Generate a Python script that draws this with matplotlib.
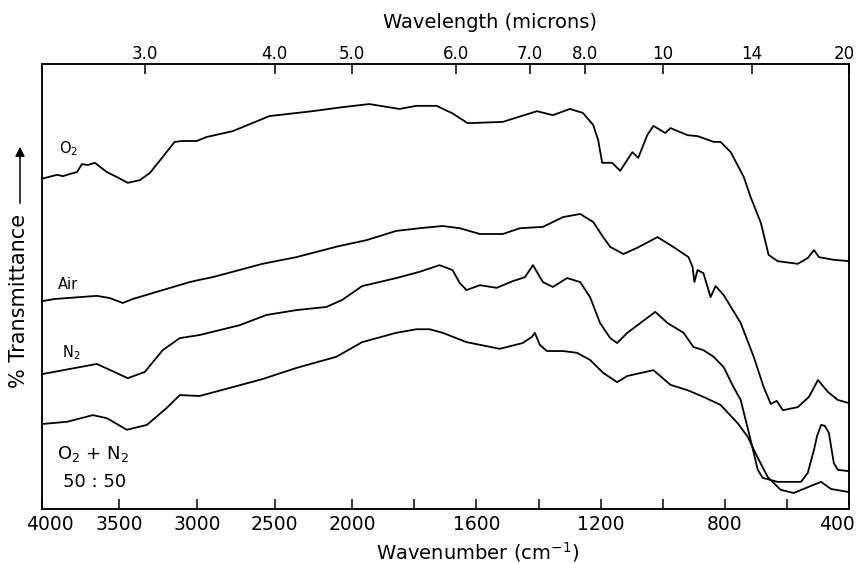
import matplotlib.pyplot as plt
import matplotlib.transforms as mtransforms
import numpy as np

# spectra: wavenumber (cm-1) and % transmittance (offset traces)
wn_o2 = [4000, 3902, 3863, 3818, 3773, 3741, 3703, 3658, 3580, 3516, 3446, 3368, 3304, 3221,
         3144, 3093, 3002, 2938, 2771, 2533, 2257, 2064, 1945, 1848, 1793, 1728, 1677, 1628,
         1515, 1405, 1354, 1299, 1257, 1224, 1208, 1195, 1163, 1137, 1098, 1079, 1050, 1030,
         992, 975, 920, 888, 836, 814, 781, 739, 717, 684, 659, 630, 565, 533, 513, 497, 449, 400]
t_o2 = [74.2, 75.1, 74.8, 75.3, 75.7, 77.5, 77.3, 77.8, 75.7, 74.6, 73.3, 73.9, 75.5, 79.1,
        82.5, 82.7, 82.7, 83.6, 84.9, 88.3, 89.4, 90.3, 91.0, 89.9, 90.6, 90.6, 88.9, 86.7,
        87.0, 89.4, 88.5, 89.9, 89.0, 86.3, 82.9, 77.8, 77.8, 76.0, 80.2, 78.9, 84.0, 86.1,
        84.5, 85.6, 84.0, 83.8, 82.5, 82.5, 80.2, 74.6, 70.1, 64.3, 57.1, 55.7, 55.1, 56.4, 58.2,
        56.6, 56.0, 55.7]

wn_air = [4000, 3915, 3645, 3561, 3478, 3413, 3047, 2983, 2899, 2578, 2360, 2084, 1955, 1858,
          1783, 1709, 1654, 1589, 1515, 1460, 1386, 1321, 1266, 1224, 1192, 1169, 1127, 1082,
          1017, 966, 917, 904, 898, 888, 869, 846, 830, 804, 749, 707, 675, 652, 633, 613, 565,
          529, 500, 468, 436, 400]
t_air = [46.7, 47.2, 47.9, 47.4, 46.3, 47.2, 51.0, 51.5, 52.1, 55.1, 56.6, 59.1, 60.4, 62.5,
         63.1, 63.6, 63.1, 61.8, 61.8, 63.1, 63.4, 65.6, 66.3, 64.5, 61.1, 58.9, 57.3, 58.7,
         61.1, 58.9, 56.6, 54.4, 51.0, 53.7, 53.0, 47.6, 50.1, 48.1, 41.8, 34.2, 27.4, 23.6, 24.3,
         22.2, 22.9, 25.2, 29.0, 26.3, 24.5, 23.8]

wn_n2 = [4000, 3645, 3446, 3336, 3221, 3111, 2983, 2726, 2553, 2360, 2167, 2064, 1968, 1858,
         1783, 1719, 1677, 1654, 1632, 1589, 1535, 1483, 1444, 1418, 1386, 1354, 1308, 1266,
         1234, 1202, 1169, 1147, 1114, 1072, 1024, 985, 933, 901, 869, 836, 804, 772, 749, 733,
         717, 694, 678, 630, 555, 533, 513, 503, 490, 478, 465, 449, 436, 400]
t_n2 = [30.3, 32.6, 29.4, 30.8, 35.7, 38.4, 39.1, 41.3, 43.6, 44.7, 45.4, 47.0, 50.1, 51.9,
        53.3, 54.8, 53.7, 50.8, 49.2, 50.3, 49.7, 51.2, 52.1, 54.8, 51.0, 49.9, 51.9, 51.0,
        47.6, 41.8, 38.4, 37.3, 39.6, 41.8, 44.3, 41.8, 39.6, 36.4, 35.7, 34.2, 31.9, 27.4, 24.5,
        20.0, 15.5, 8.8, 7.0, 6.1, 6.1, 8.1, 13.3, 16.4, 18.9, 18.7, 17.1, 10.3, 8.8, 8.5]

wn_mix = [4000, 3837, 3670, 3580, 3452, 3323, 3195, 3111, 2983, 2790, 2578, 2360, 2103, 1968,
          1858, 1793, 1751, 1709, 1632, 1525, 1451, 1421, 1412, 1396, 1373, 1321, 1276, 1234,
          1192, 1147, 1114, 1030, 975, 920, 869, 814, 759, 726, 694, 662, 620, 578, 533, 490,
          458, 400]
t_mix = [19.1, 19.6, 21.1, 20.4, 17.8, 18.9, 22.7, 25.6, 25.4, 27.2, 29.2, 31.7, 34.2, 37.5,
         39.6, 40.4, 40.4, 39.6, 37.5, 36.0, 37.3, 38.7, 39.6, 36.9, 35.5, 35.5, 35.1, 33.5,
         30.6, 28.5, 29.9, 31.2, 27.9, 26.7, 25.2, 23.4, 19.3, 16.2, 11.5, 7.2, 4.3, 3.6, 4.9, 6.1,
         4.5, 3.8]

bottom_ticks = [4000, 3500, 3000, 2500, 2000, 1800, 1600, 1400, 1200, 1000, 800, 600, 400]
bottom_labels = ["4000", "3500", "3000", "2500", "2000", "", "1600", "", "1200", "", "800", "", "400"]
top_ticks = [3333, 2500, 2000, 1667, 1429, 1250, 1000, 714, 400]
top_labels = ["3.0", "4.0", "5.0", "6.0", "7.0", "8.0", "10", "14", "20"]


# chart paper doubles the scale below 2000 cm-1
def fwd(x):
    x = np.asarray(x, dtype=float)
    return np.where(x > 2000, 2000 + (x - 2000) / 2, x)

def inv(x):
    x = np.asarray(x, dtype=float)
    return np.where(x > 2000, 2000 + (x - 2000) * 2, x)


plt.rcParams['font.family'] = 'DejaVu Sans'
plt.rcParams['mathtext.fontset'] = 'dejavusans'

fig = plt.figure(figsize=(8.64, 5.63), dpi=100)
ax = fig.add_axes([0.0483, 0.0959, 0.9344, 0.7904])

for wn, t in [(wn_o2, t_o2), (wn_air, t_air), (wn_n2, t_n2), (wn_mix, t_mix)]:
    ax.plot(wn, t, color="black", lw=1.3, solid_joinstyle="round")

ax.set_xscale("function", functions=(fwd, inv))
ax.set_xlim(4000, 400)
ax.set_ylim(0, 100)
ax.set_yticks([])
ax.set_xticks(bottom_ticks, bottom_labels)
ax.minorticks_off()
ax.tick_params(axis="x", direction="in", length=7, width=1.1, labelsize=13.5, pad=4)
for s in ax.spines.values():
    s.set_linewidth(1.1)

ax2 = ax.twiny()
ax2.set_xscale("function", functions=(fwd, inv))
ax2.set_xlim(4000, 400)
ax2.set_xticks(top_ticks, top_labels)
ax2.minorticks_off()
ax2.tick_params(axis="x", direction="in", length=7, width=1.1, labelsize=12, pad=1)
for s in ax2.spines.values():
    s.set_linewidth(1.1)

# nudge the end labels in, as on the printed chart
def nudge(label, dx):
    label.set_transform(label.get_transform() + mtransforms.ScaledTranslation(dx / 100, 0, fig.dpi_scale_trans))

blabs = ax.get_xticklabels()
nudge(blabs[0], 8)
nudge(blabs[-1], -12)
nudge(ax2.get_xticklabels()[-1], -5)

# trace labels
ax.text(3889, 80.0, "O$_2$", fontsize=10.5, va="baseline")
ax.text(3895, 49.4, "Air", fontsize=10.5, va="baseline")
ax.text(3870, 34.2, "N$_2$", fontsize=10.5, va="baseline")
ax.text(3902, 11.2, "O$_2$ + N$_2$", fontsize=13, va="baseline")
ax.text(3863, 4.9, "50 : 50", fontsize=13, va="baseline")

fig.text(478 / 864, 1 - 552 / 563, "Wavenumber (cm$^{-1}$)", fontsize=14, ha="center", va="center")
fig.text(490 / 864, 1 - 23 / 563, "Wavelength (microns)", fontsize=14, ha="center", va="center")
fig.text(19 / 864, 1 - 301 / 563, "% Transmittance", fontsize=15, rotation=90, ha="center", va="center")
fig.add_artist(plt.Line2D([20 / 864, 20 / 864], [1 - 203 / 563, 1 - 150 / 563], color="black", lw=1.1))
ax.annotate("", xy=(20 / 864, 1 - 144 / 563), xytext=(20 / 864, 1 - 160 / 563),
            xycoords="figure fraction", textcoords="figure fraction",
            arrowprops=dict(arrowstyle="-|>", color="black", lw=1.1, mutation_scale=14))

fig.savefig("out.png", dpi=100)
